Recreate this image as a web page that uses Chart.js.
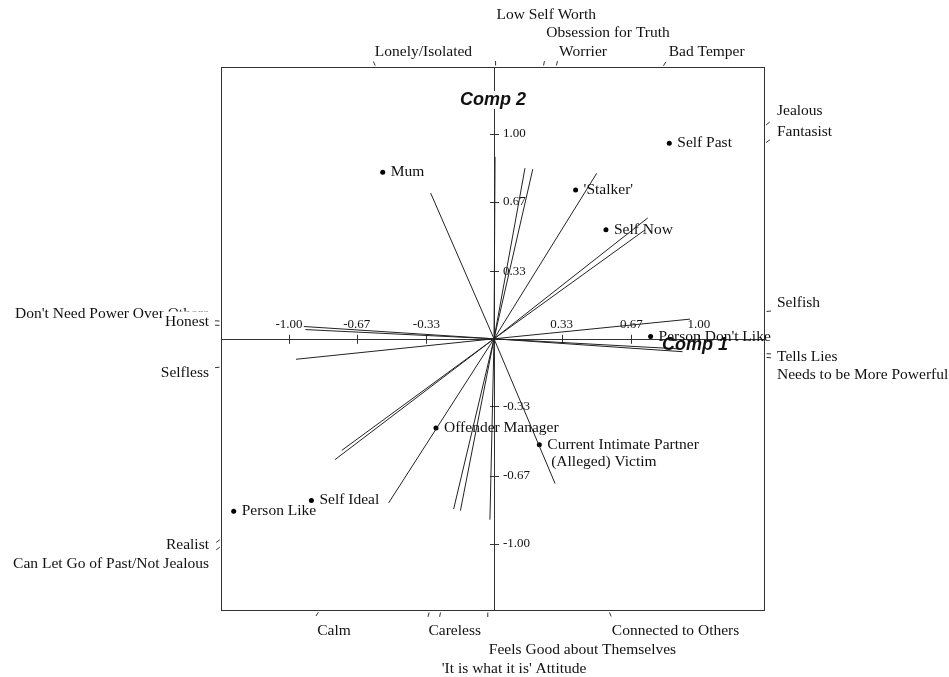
<!DOCTYPE html>
<html>
<head>
<meta charset="utf-8">
<script src="https://cdn.jsdelivr.net/npm/chart.js@4.4.1/dist/chart.umd.min.js"></script>
<style>
  html, body { margin: 0; padding: 0; background: #fff; }
  #wrap { width: 949px; height: 677px; }
</style>
</head>
<body>
<div id="wrap"><canvas id="biplot" width="949" height="677"></canvas></div>
<script>
// elements (grid columns), scores on the first two components
const elementNames = ['Mum', 'Self Past', "'Stalker'", 'Self Now', "Person Don't Like",
  'Offender Manager', 'Current Intimate Partner\n (Alleged) Victim', 'Self Ideal', 'Person Like'];
const elementX = [-0.543, 0.855, 0.398, 0.546, 0.764, -0.283, 0.221, -0.891, -1.27];
const elementY = [0.813, 0.955, 0.727, 0.532, 0.011, -0.436, -0.517, -0.789, -0.842];

// constructs, emergent pole end and implicit pole end of each vector
const emergentPoles = ['Jealous', 'Fantasist', 'Bad Temper', 'Worrier', 'Obsession for Truth',
  'Low Self Worth', 'Lonely/Isolated', 'Selfish', 'Tells Lies', 'Needs to be More Powerful'];
const emergentX = [0.75, 0.737, 0.501, 0.189, 0.151, 0.005, -0.309, 0.956, 0.915, 0.92];
const emergentY = [0.59, 0.532, 0.808, 0.828, 0.833, 0.888, 0.711, 0.096, -0.05, -0.063];

const implicitPoles = ['Can Let Go of Past/Not Jealous', 'Realist', 'Calm', 'Careless',
  "'It is what it is' Attitude", 'Feels Good about Themselves', 'Connected to Others',
  'Selfless', 'Honest', "Don't Need Power Over Others"];
const implicitX = [-0.776, -0.743, -0.514, -0.197, -0.164, -0.02, 0.298, -0.966, -0.92, -0.928];
const implicitY = [-0.59, -0.545, -0.801, -0.831, -0.839, -0.883, -0.707, -0.10, 0.045, 0.06];

const axisTicks = [-1.00, -0.67, -0.33, 0.33, 0.67, 1.00];
const axisTickLabels = ['-1.00', '-0.67', '-0.33', '0.33', '0.67', '1.00'];
const axisTitles = ['Comp 1', 'Comp 2'];

// label nudges so the pole names do not sit on top of each other
const emergentShift = [[0, -15], [0, -11], [6, 0], [3, 0], [3, -19], [1, -37], [-1, 0], [0, -8.5], [0, 3], [0, 17.5]];
const implicitShift = [[0, 17.5], [0, 6], [-2, 0], [-1, 0], [1, 38], [1, 19], [3, 0], [0, 5.5], [0, -4], [0, -7]];
const maskedLabels = ['Honest'];

const SERIF = '"Liberation Serif", "Times New Roman", serif';
const INK = '#111';

function frameHit(x, y, sx, sy) {
  let t = Infinity, side = '';
  if (x > 0 && sx.max / x < t) { t = sx.max / x; side = 'right'; }
  if (x < 0 && sx.min / x < t) { t = sx.min / x; side = 'left'; }
  if (y > 0 && sy.max / y < t) { t = sy.max / y; side = 'top'; }
  if (y < 0 && sy.min / y < t) { t = sy.min / y; side = 'bottom'; }
  return { px: sx.getPixelForValue(x * t), py: sy.getPixelForValue(y * t), side };
}

function drawLabel(ctx, item, masked) {
  ctx.textAlign = item.align;
  if (masked) {
    const w = ctx.measureText(item.name).width;
    const left = item.align === 'right' ? item.x - w : item.x;
    ctx.fillStyle = '#fff';
    ctx.fillRect(left - 3, item.y - 10, w + 6, 19);
  }
  ctx.fillStyle = INK;
  ctx.fillText(item.name, item.x, item.y);
}

const decor = {
  id: 'decor',
  beforeDatasetsDraw(chart) {
    const { ctx, chartArea: a, scales: { x: sx, y: sy } } = chart;
    const x0 = sx.getPixelForValue(0), y0 = sy.getPixelForValue(0);
    ctx.save();
    ctx.strokeStyle = '#333';
    ctx.lineWidth = 1;
    ctx.strokeRect(a.left + 0.5, a.top + 0.5, a.right - a.left - 1, a.bottom - a.top - 1);

    ctx.beginPath();
    ctx.moveTo(a.left, Math.round(y0) + 0.5);
    ctx.lineTo(a.right, Math.round(y0) + 0.5);
    ctx.moveTo(Math.round(x0) + 0.5, a.top);
    ctx.lineTo(Math.round(x0) + 0.5, a.bottom);
    axisTicks.forEach(v => {
      const px = Math.round(sx.getPixelForValue(v)) + 0.5;
      const py = Math.round(sy.getPixelForValue(v)) + 0.5;
      ctx.moveTo(px, y0 - 4); ctx.lineTo(px, y0 + 5);
      ctx.moveTo(x0 - 4, py); ctx.lineTo(x0 + 5, py);
    });
    ctx.stroke();

    ctx.fillStyle = INK;
    ctx.font = '13px ' + SERIF;
    ctx.textBaseline = 'middle';
    axisTicks.forEach((v, i) => {
      ctx.textAlign = 'center';
      ctx.fillText(axisTickLabels[i], sx.getPixelForValue(v), y0 - 14);
      ctx.textAlign = 'left';
      ctx.fillText(axisTickLabels[i], x0 + 9, sy.getPixelForValue(v));
    });
    ctx.restore();
  },
  afterDatasetsDraw(chart) {
    const { ctx, chartArea: a, scales: { x: sx, y: sy } } = chart;
    const x0 = sx.getPixelForValue(0), y0 = sy.getPixelForValue(0);
    ctx.save();
    ctx.font = '15.5px ' + SERIF;
    ctx.textBaseline = 'middle';

    // pole ticks outside the frame and their names
    const later = [];
    const poles = [];
    emergentPoles.forEach((n, i) => poles.push([n, emergentX[i], emergentY[i], emergentShift[i]]));
    implicitPoles.forEach((n, i) => poles.push([n, implicitX[i], implicitY[i], implicitShift[i]]));
    ctx.strokeStyle = '#333';
    ctx.lineWidth = 1;
    poles.forEach(([name, vx, vy, shift]) => {
      const hit = frameHit(vx, vy, sx, sy);
      let ux = hit.px - x0, uy = hit.py - y0;
      const len = Math.hypot(ux, uy);
      ux /= len; uy /= len;
      ctx.beginPath();
      ctx.moveTo(hit.px + ux * 1.5, hit.py + uy * 1.5);
      ctx.lineTo(hit.px + ux * 6, hit.py + uy * 6);
      ctx.stroke();

      let tx, ty, align = 'left';
      if (hit.side === 'top') { tx = hit.px; ty = a.top - 15; }
      else if (hit.side === 'bottom') { tx = hit.px; ty = a.bottom + 20; }
      else if (hit.side === 'right') { tx = a.right + 12; ty = hit.py; }
      else { tx = a.left - 12; ty = hit.py; align = 'right'; }
      const item = { name, x: tx + shift[0], y: ty + shift[1], align };
      if (maskedLabels.includes(name)) later.push(item); else drawLabel(ctx, item, false);
    });
    later.forEach(item => drawLabel(ctx, item, true));

    // element names
    ctx.textAlign = 'left';
    ctx.fillStyle = INK;
    elementNames.forEach((n, i) => {
      const px = sx.getPixelForValue(elementX[i]) + 8;
      const py = sy.getPixelForValue(elementY[i]);
      n.split('\n').forEach((line, k) => ctx.fillText(line, px, py + k * 17));
    });

    // component titles
    ctx.font = 'italic bold 18px "Liberation Sans", Arial, sans-serif';
    ctx.textAlign = 'center';
    const w2 = ctx.measureText(axisTitles[1]).width;
    ctx.fillStyle = '#fff';
    ctx.fillRect(x0 - w2 / 2 - 2, a.top + 24, w2 + 4, 18);
    ctx.fillStyle = INK;
    ctx.fillText(axisTitles[1], x0 - 1, a.top + 33);
    ctx.fillText(axisTitles[0], sx.getPixelForValue(0.98), y0 + 6);
    ctx.restore();
  }
};

const constructSets = emergentPoles.map((name, i) => ({
  type: 'scatter',
  label: name,
  data: [{ x: implicitX[i], y: implicitY[i] }, { x: 0, y: 0 }, { x: emergentX[i], y: emergentY[i] }],
  showLine: true,
  borderColor: '#222',
  borderWidth: 1,
  pointRadius: 0,
  tension: 0
}));

const elementSet = {
  type: 'scatter',
  label: 'elements',
  data: elementX.map((x, i) => ({ x, y: elementY[i] })),
  pointRadius: 2.5,
  pointBackgroundColor: '#000',
  pointBorderWidth: 0,
  showLine: false
};

new Chart(document.getElementById('biplot'), {
  type: 'scatter',
  data: { datasets: [...constructSets, elementSet] },
  options: {
    responsive: false,
    animation: false,
    layout: { padding: { left: 221, right: 184, top: 67, bottom: 66 } },
    plugins: { legend: { display: false }, tooltip: { enabled: false } },
    scales: {
      x: { type: 'linear', min: -1.332, max: 1.322, display: false },
      y: { type: 'linear', min: -1.329, max: 1.327, display: false }
    }
  },
  plugins: [decor]
});
</script>
</body>
</html>
